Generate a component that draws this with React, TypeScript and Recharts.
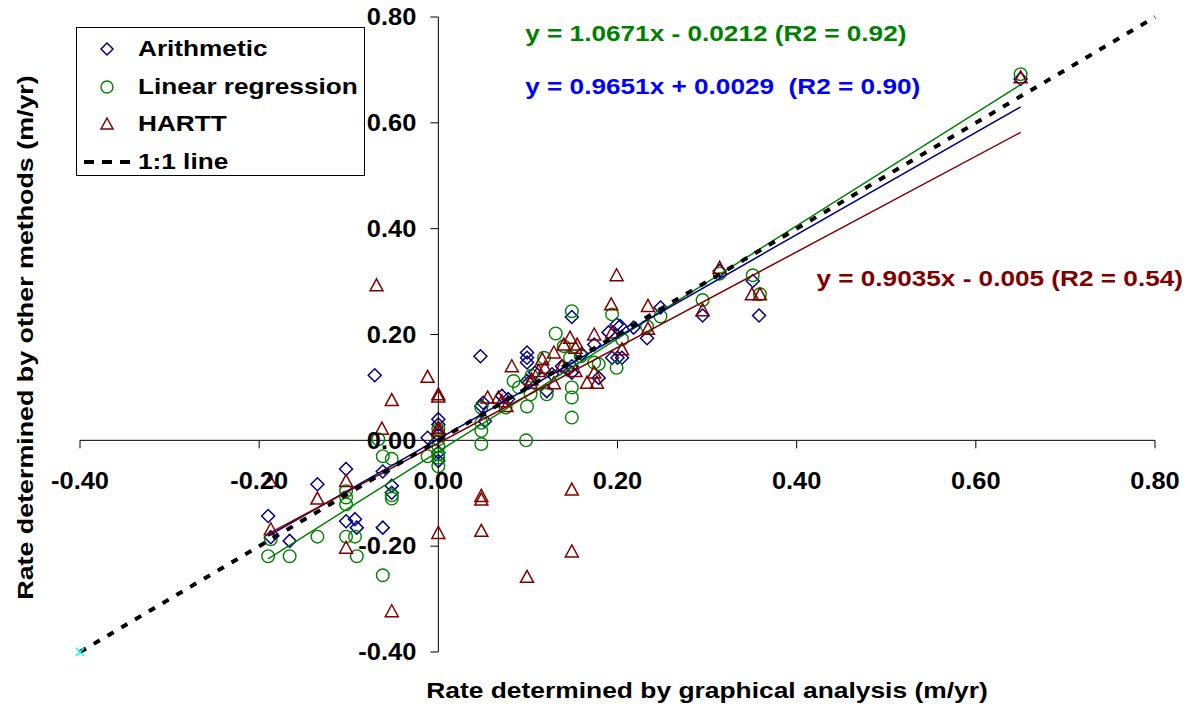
import { ScatterChart, Scatter, XAxis, YAxis, ReferenceLine, ReferenceDot, Legend, Label } from 'recharts'

// chart frame (plot area in page pixels)
const W = 1194
const H = 706
const LEFT = 80
const TOP = 17
const RIGHT = 1155
const BOTTOM = 652
const X_MIN = -0.4
const X_MAX = 0.8
const Y_MIN = -0.4
const Y_MAX = 0.8
const ZERO_X = LEFT + ((RIGHT - LEFT) * (0 - X_MIN)) / (X_MAX - X_MIN)
const ZERO_Y = TOP + ((BOTTOM - TOP) * (Y_MAX - 0)) / (Y_MAX - Y_MIN)
const AXIS_SIZE = 1

const FONT = '"Liberation Sans", Arial, Helvetica, sans-serif'
const NAVY = '#000080'
const GREEN = '#008000'
const MAROON = '#800000'

const xTicks = [-0.4, -0.2, 0, 0.2, 0.4, 0.6, 0.8]
const yTicks = [-0.4, -0.2, 0, 0.2, 0.4, 0.6, 0.8]

// [graphical analysis, other method]
const arithmetic = [
  [-0.19, -0.143], [-0.187, -0.183], [-0.166, -0.19], [-0.135, -0.083], [-0.103, -0.054],
  [-0.103, -0.153], [-0.093, -0.149], [-0.091, -0.165], [-0.071, 0.123], [-0.062, -0.059],
  [-0.062, -0.165], [-0.052, -0.086], [-0.052, -0.099], [-0.012, 0.005], [0, 0.04],
  [0, 0.03], [0, 0.01], [0, -0.023], [0, -0.039], [0.047, 0.159],
  [0.048, 0.065], [0.05, 0.071], [0.052, 0.036], [0.071, 0.084], [0.078, 0.078],
  [0.099, 0.166], [0.099, 0.156], [0.099, 0.147], [0.099, 0.112], [0.101, 0.109],
  [0.108, 0.128], [0.121, 0.093], [0.127, 0.125], [0.138, 0.14], [0.144, 0.134],
  [0.149, 0.14], [0.149, 0.233], [0.149, 0.128], [0.16, 0.163], [0.174, 0.181],
  [0.179, 0.118], [0.19, 0.204], [0.194, 0.156], [0.2, 0.156], [0.205, 0.156],
  [0.199, 0.219], [0.203, 0.216], [0.218, 0.213], [0.233, 0.193], [0.248, 0.251],
  [0.295, 0.236], [0.314, 0.32], [0.351, 0.301], [0.358, 0.236], [0.65, 0.683],
]

const linearRegression = [
  [-0.19, -0.219], [-0.187, -0.187], [-0.166, -0.219], [-0.135, -0.182], [-0.103, -0.096],
  [-0.103, -0.108], [-0.103, -0.121], [-0.103, -0.182], [-0.093, -0.182], [-0.091, -0.219],
  [-0.067, 0.002], [-0.062, -0.03], [-0.062, -0.255], [-0.052, -0.035], [-0.052, -0.104],
  [-0.052, -0.11], [-0.012, -0.03], [0, 0.021], [0, 0.002], [0, -0.011],
  [0, -0.026], [0, -0.033], [0, -0.049], [0.048, 0.062], [0.048, 0.033],
  [0.048, 0.018], [0.048, -0.007], [0.075, 0.062], [0.084, 0.112], [0.09, 0.1],
  [0.098, 0.0], [0.099, 0.064], [0.103, 0.087], [0.104, 0.122], [0.118, 0.156],
  [0.121, 0.087], [0.131, 0.202], [0.14, 0.178], [0.147, 0.156], [0.149, 0.244],
  [0.149, 0.1], [0.149, 0.081], [0.149, 0.043], [0.159, 0.159], [0.174, 0.147],
  [0.179, 0.144], [0.194, 0.238], [0.199, 0.137], [0.205, 0.191], [0.233, 0.215],
  [0.248, 0.234], [0.295, 0.265], [0.314, 0.315], [0.351, 0.312], [0.359, 0.276],
  [0.65, 0.692],
]

const hartt = [
  [-0.188, -0.077], [-0.187, -0.168], [-0.135, -0.11], [-0.103, -0.077], [-0.103, -0.203],
  [-0.069, 0.293], [-0.063, 0.022], [-0.052, 0.076], [-0.052, -0.323], [-0.012, 0.12],
  [0, 0.083], [0, 0.087], [0, 0.024], [0, 0.018], [0, -0.175],
  [0.048, -0.105], [0.048, -0.112], [0.048, -0.171], [0.055, 0.081], [0.067, 0.081],
  [0.071, 0.074], [0.076, 0.065], [0.082, 0.14], [0.099, -0.258], [0.103, 0.109],
  [0.104, 0.115], [0.112, 0.131], [0.116, 0.153], [0.119, 0.137], [0.129, 0.166],
  [0.129, 0.108], [0.138, 0.14], [0.14, 0.181], [0.147, 0.194], [0.149, -0.093],
  [0.149, -0.21], [0.153, 0.175], [0.153, 0.131], [0.155, 0.181], [0.166, 0.109],
  [0.174, 0.2], [0.174, 0.128], [0.177, 0.109], [0.193, 0.257], [0.194, 0.204],
  [0.199, 0.312], [0.205, 0.172], [0.234, 0.254], [0.234, 0.211], [0.295, 0.246],
  [0.314, 0.326], [0.35, 0.276], [0.359, 0.276], [0.65, 0.686],
]

// fitted trend lines, end points as drawn
const arithmeticTrend = [[-0.19, -0.181], [0.65, 0.63]]
const linearTrend = [[-0.19, -0.224], [0.65, 0.672]]
const harttTrend = [[-0.19, -0.177], [0.65, 0.582]]
const oneToOne = [[-0.4, -0.4], [0.8, 0.8]]
const originMark = [[-0.4, -0.4]]

const equations = [
  { text: 'y = 1.0671x - 0.0212 (R2 = 0.92)', color: GREEN, x: 0.097, y: 0.77 },
  { text: 'y = 0.9651x + 0.0029  (R2 = 0.90)', color: '#0000FF', x: 0.097, y: 0.67 },
  { text: 'y = 0.9035x - 0.005 (R2 = 0.54)', color: MAROON, x: 0.422, y: 0.307 },
]

const toPts = (arr: number[][]) => arr.map(([x, y]) => ({ x, y }))

const Diamond = ({ cx, cy }: any) => (
  <path d={`M${cx},${cy - 6.5}L${cx + 6.5},${cy}L${cx},${cy + 6.5}L${cx - 6.5},${cy}Z`} fill="none" stroke={NAVY} strokeWidth={1.5} />
)
const Ring = ({ cx, cy }: any) => <circle cx={cx} cy={cy} r={6.3} fill="none" stroke={GREEN} strokeWidth={1.4} />
const Tri = ({ cx, cy }: any) => (
  <path d={`M${cx},${cy - 6.5}L${cx + 6.5},${cy + 5.5}L${cx - 6.5},${cy + 5.5}Z`} fill="none" stroke={MAROON} strokeWidth={1.5} />
)
const Cross = ({ cx, cy }: any) => (
  <path d={`M${cx - 4},${cy - 4}L${cx + 4},${cy + 4}M${cx - 4},${cy + 4}L${cx + 4},${cy - 4}`} stroke="#00FFFF" strokeWidth={1.5} />
)
const NoShape = () => <g />

const fmt = (v: number) => (Math.abs(v) < 1e-9 ? '0.00' : v.toFixed(2))

const tickText = { fontSize: 24, fontWeight: 'bold', fontFamily: FONT, fill: '#000' }

const renderXTick = ({ x, payload }: any) => (
  <g>
    <line x1={x} x2={x} y1={ZERO_Y} y2={ZERO_Y + 8} stroke="#000" />
    <text transform={`translate(${x} ${ZERO_Y + 40}) scale(1.06 1)`} textAnchor="middle" dominantBaseline="central" {...tickText}>
      {fmt(payload.value)}
    </text>
  </g>
)

const renderYTick = ({ y, payload }: any) => (
  <g>
    <line x1={ZERO_X - 8} x2={ZERO_X} y1={y} y2={y} stroke="#000" />
    <text transform={`translate(${ZERO_X - 22} ${y}) scale(1.06 1)`} textAnchor="end" dominantBaseline="central" {...tickText}>
      {fmt(payload.value)}
    </text>
  </g>
)

const EqText = ({ cx, cy, text, color }: any) => (
  <text
    transform={`translate(${cx} ${cy}) scale(1.19 1)`}
    dominantBaseline="central"
    fontSize={22}
    fontWeight="bold"
    fontFamily={FONT}
    fill={color}
    style={{ whiteSpace: 'pre' }}
  >
    {text}
  </text>
)

const legendRows = [
  { name: 'Arithmetic', kind: 'diamond' },
  { name: 'Linear regression', kind: 'circle' },
  { name: 'HARTT', kind: 'triangle' },
  { name: '1:1 line', kind: 'dash' },
]

const LegendMark = ({ kind }: { kind: string }) => {
  if (kind === 'diamond') return <svg width={60} height={20}><path d="M23,4L29,10L23,16L17,10Z" fill="none" stroke={NAVY} strokeWidth={1.5} /></svg>
  if (kind === 'circle') return <svg width={60} height={20}><circle cx={23} cy={10} r={6} fill="none" stroke={GREEN} strokeWidth={1.4} /></svg>
  if (kind === 'triangle') return <svg width={60} height={20}><path d="M23,4L29,15L17,15Z" fill="none" stroke={MAROON} strokeWidth={1.5} /></svg>
  return <svg width={60} height={20}><line x1={0} x2={46} y1={10} y2={10} stroke="#000" strokeWidth={4} strokeDasharray="10 8" /></svg>
}

const LegendBox = () => (
  <div style={{ position: 'relative', width: 289, height: 149, border: '1.5px solid #000', boxSizing: 'border-box', background: '#fff', fontFamily: FONT }}>
    {legendRows.map((r, i) => (
      <div key={r.name} style={{ position: 'absolute', left: 7, top: 11 + i * 37.5, height: 20, display: 'flex', alignItems: 'center' }}>
        <LegendMark kind={r.kind} />
        <span style={{ display: 'inline-block', fontSize: 22, fontWeight: 'bold', color: '#000', transform: 'scaleX(1.19)', transformOrigin: 'left center', whiteSpace: 'nowrap', marginLeft: -6 }}>
          {r.name}
        </span>
      </div>
    ))}
  </div>
)

const XTitle = () => (
  <text transform="translate(707 690) scale(1.2 1)" textAnchor="middle" dominantBaseline="central" fontSize={22} fontWeight="bold" fontFamily={FONT} fill="#000">
    Rate determined by graphical analysis (m/yr)
  </text>
)

const YTitle = () => (
  <text
    transform={`translate(25 ${(TOP + BOTTOM) / 2 + 3}) rotate(-90) scale(1.22 1)`}
    textAnchor="middle"
    dominantBaseline="central"
    fontSize={22}
    fontWeight="bold"
    fontFamily={FONT}
    fill="#000"
  >
    Rate determined by other methods (m/yr)
  </text>
)

export default function App() {
  return (
    <div style={{ position: 'absolute', left: 0, top: 0, width: W, height: H, background: '#fff' }}>
      <ScatterChart
        width={W}
        height={H}
        margin={{ top: TOP, right: W - RIGHT, bottom: H - BOTTOM - AXIS_SIZE, left: LEFT - AXIS_SIZE }}
      >
        <XAxis
          type="number"
          dataKey="x"
          domain={[X_MIN, X_MAX]}
          ticks={xTicks}
          height={AXIS_SIZE}
          axisLine={false}
          tickLine={false}
          tick={renderXTick}
          interval={0}
        >
          <Label content={XTitle} />
        </XAxis>
        <YAxis
          type="number"
          dataKey="y"
          domain={[Y_MIN, Y_MAX]}
          ticks={yTicks}
          width={AXIS_SIZE}
          axisLine={false}
          tickLine={false}
          tick={renderYTick}
          interval={0}
        >
          <Label content={YTitle} />
        </YAxis>

        <ReferenceLine y={0} stroke="#000" strokeWidth={1} />
        <ReferenceLine x={0} stroke="#000" strokeWidth={1} />

        <Scatter name="Arithmetic" data={toPts(arithmetic)} shape={<Diamond />} isAnimationActive={false} />
        <Scatter name="Linear regression" data={toPts(linearRegression)} shape={<Ring />} isAnimationActive={false} />
        <Scatter name="HARTT" data={toPts(hartt)} shape={<Tri />} isAnimationActive={false} />

        <Scatter data={toPts(linearTrend)} shape={NoShape} line={{ stroke: GREEN, strokeWidth: 1.5 }} isAnimationActive={false} legendType="none" />
        <Scatter data={toPts(arithmeticTrend)} shape={NoShape} line={{ stroke: NAVY, strokeWidth: 1.5 }} isAnimationActive={false} legendType="none" />
        <Scatter data={toPts(harttTrend)} shape={NoShape} line={{ stroke: MAROON, strokeWidth: 1.5 }} isAnimationActive={false} legendType="none" />
        <Scatter name="1:1 line" data={toPts(oneToOne)} shape={NoShape} line={{ stroke: '#000', strokeWidth: 4, strokeDasharray: '7 9' }} isAnimationActive={false} />
        <Scatter data={toPts(originMark)} shape={<Cross />} isAnimationActive={false} legendType="none" />

        {equations.map((e) => (
          <ReferenceDot
            key={e.text}
            x={e.x}
            y={e.y}
            r={0}
            shape={(p: any) => <EqText cx={p.cx} cy={p.cy} text={e.text} color={e.color} />}
          />
        ))}

        <Legend
          layout="vertical"
          align="center"
          verticalAlign="middle"
          wrapperStyle={{ left: 76, top: 27, width: 289, height: 149 }}
          content={() => <LegendBox />}
        />
      </ScatterChart>
    </div>
  )
}
